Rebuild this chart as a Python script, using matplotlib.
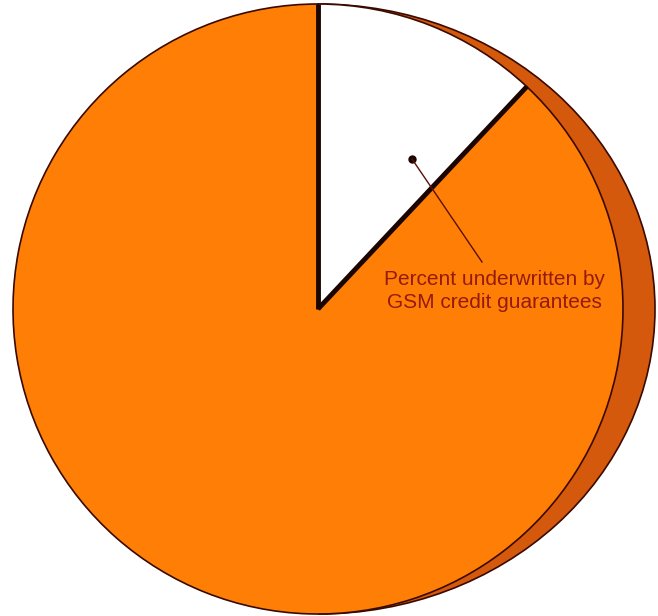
import matplotlib
matplotlib.use("Agg")
import matplotlib.pyplot as plt
from matplotlib.patches import Ellipse, Rectangle
import numpy as np

# share of exports underwritten by GSM credit guarantees (percent)
labels = ["Percent underwritten by\nGSM credit guarantees", "Other"]
shares = [12, 88]
colors = ["white", "#ff7f06"]

fig = plt.figure(figsize=(6.58, 6.16), dpi=100)
ax = fig.add_axes([0, 0, 1, 1])

cx, cy, r = 318, 307, 305

# darker rim behind the disc, only its right half shows
rim = Ellipse((cx, cy), 2 * 337, 2 * 305, facecolor="#d5590c",
              edgecolor="#3a0a00", lw=1.2, zorder=1)
ax.add_patch(rim)
clip = Rectangle((cx, 0), 400, 700, transform=ax.transData)
rim.set_clip_path(clip)

wedges, _ = ax.pie(shares, colors=colors, startangle=90, counterclock=False,
                   center=(cx, cy), radius=r, frame=True,
                   wedgeprops=dict(edgecolor="#3a0a00", linewidth=1.2))
for w in wedges:
    w.set_zorder(2)

# heavy outline on the straight sides of the white slice
w0 = wedges[0]
for ang in (w0.theta1, w0.theta2):
    t = np.deg2rad(ang)
    ax.plot([cx, cx + r * np.cos(t)], [cy, cy + r * np.sin(t)],
            color="#1a0500", lw=3.5, solid_capstyle="butt", zorder=3)

# callout for the white slice
ax.plot(412, 616 - 159, "o", color="#1a0500", ms=5, zorder=4)
ax.plot([412, 482], [616 - 159, 616 - 262], color="#5a1008", lw=1, zorder=4)
ax.text(494, 616 - 291, labels[0], ha="center", va="center",
        fontsize=15, family="Liberation Sans", color="#941b0c",
        linespacing=1.25, zorder=4)

ax.set_xlim(0, 658)
ax.set_ylim(0, 616)
ax.set_aspect("equal")
ax.axis("off")

fig.savefig("out.png", dpi=100, facecolor="white")
